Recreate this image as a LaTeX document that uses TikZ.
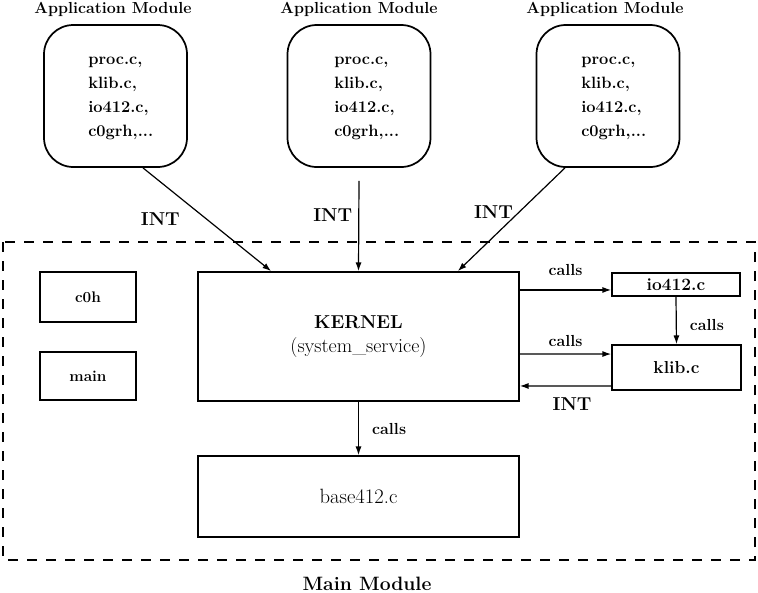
\documentclass[tikz,border=0pt]{standalone}
\usetikzlibrary{arrows.meta}

\begin{document}
\begin{tikzpicture}[x=0.75pt, y=-0.75pt,
  box/.style={draw, line width=1.3pt, inner sep=0pt},
  appbox/.style={box, rounded corners=22pt, minimum width=107.25pt, minimum height=106.5pt},
  filelist/.style={align=left, inner sep=0pt, font=\fontsize{12.3}{18.2}\selectfont\bfseries},
  title/.style={inner sep=0pt, font=\fontsize{12}{13}\selectfont\bfseries},
  calllbl/.style={font=\fontsize{12}{13}\selectfont\bfseries},
  intlbl/.style={font=\fontsize{14}{16}\selectfont\bfseries},
  arr/.style={-{Latex[length=6.5pt,width=4.5pt]}, line width=0.9pt}]
\useasboundingbox (0,0) rectangle (758,593);

% application modules
\node[title] (t1) at (113,9) {Application Module};
\node[title] (t2) at (359,9) {Application Module};
\node[title] (t3) at (605,9) {Application Module};
\node[appbox] (app1) at (115.5,96) {};
\node[appbox] (app2) at (359,96) {};
\node[appbox] (app3) at (608,96) {};
\node[filelist, anchor=west] (list1) at (88,98.5) {proc.c,\\klib.c,\\io412.c,\\c0grh,...};
\node[filelist, anchor=west] (list2) at (334,98.5) {proc.c,\\klib.c,\\io412.c,\\c0grh,...};
\node[filelist, anchor=west] (list3) at (581,98.5) {proc.c,\\klib.c,\\io412.c,\\c0grh,...};

% main module
\draw[line width=1.1pt, dash pattern=on 7.5pt off 6.75pt] (3,242) rectangle (755,560);
\node[inner sep=0pt, font=\fontsize{14.5}{16}\selectfont\bfseries] (mainmod) at (367,584) {Main Module};

\node[box, minimum width=240.75pt, minimum height=96.75pt, align=center, font=\fontsize{15}{18}\selectfont] (kernel) at (358.5,336.5)
  {{\fontsize{14}{18}\selectfont\bfseries KERNEL}\\(system\_service)};
\node[box, minimum width=240.75pt, minimum height=60.75pt, font=\fontsize{15.5}{18}\selectfont] (base) at (358.5,496.5) {base412.c};
\node[box, minimum width=72pt, minimum height=37.5pt, font=\fontsize{11.5}{13}\selectfont\bfseries] (c0h) at (88,297) {c0h};
\node[box, minimum width=72pt, minimum height=36pt, font=\fontsize{11.5}{13}\selectfont\bfseries] (mainbox) at (88,376) {main};
\node[box, minimum width=96pt, minimum height=17.25pt, font=\fontsize{13}{15}\selectfont\bfseries] (io412) at (676,284.5) {io412.c};
\node[box, minimum width=96.75pt, minimum height=33.75pt, font=\fontsize{13}{15}\selectfont\bfseries] (klib) at (676.5,367.5) {klib.c};

% interrupts into the kernel
\draw[arr] ([xshift=20.6pt]app1.south) -- node[intlbl, xshift=-35pt] {INT} ([xshift=55.5pt]kernel.north west);
\draw[arr] ([yshift=-9.75pt]app2.south) -- node[intlbl, xshift=-19.5pt, yshift=8pt] {INT} (kernel.north);
\draw[arr] ([xshift=-32.25pt]app3.south) -- node[intlbl, xshift=-13.5pt, yshift=5.6pt] {INT} ([xshift=-46.5pt]kernel.north east);

% calls
\draw[arr] ([yshift=34.9pt]kernel.east) -- node[calllbl, yshift=15pt] {calls} ([yshift=-4.1pt]io412.west);
\draw[arr] ([yshift=-13.1pt]kernel.east) -- node[calllbl, yshift=9.75pt] {calls} ([yshift=10.1pt]klib.west);
\draw[arr] ([yshift=-13.9pt]klib.west) -- node[intlbl, xshift=5pt, yshift=-13.5pt] {INT} ([yshift=-37.1pt]kernel.east);
\draw[arr] (io412.south) -- node[calllbl, xshift=23pt, yshift=-3.4pt] {calls} (klib.north);
\draw[arr] (kernel.south) -- node[calllbl, xshift=23pt] {calls} (base.north);
\end{tikzpicture}
\end{document}
